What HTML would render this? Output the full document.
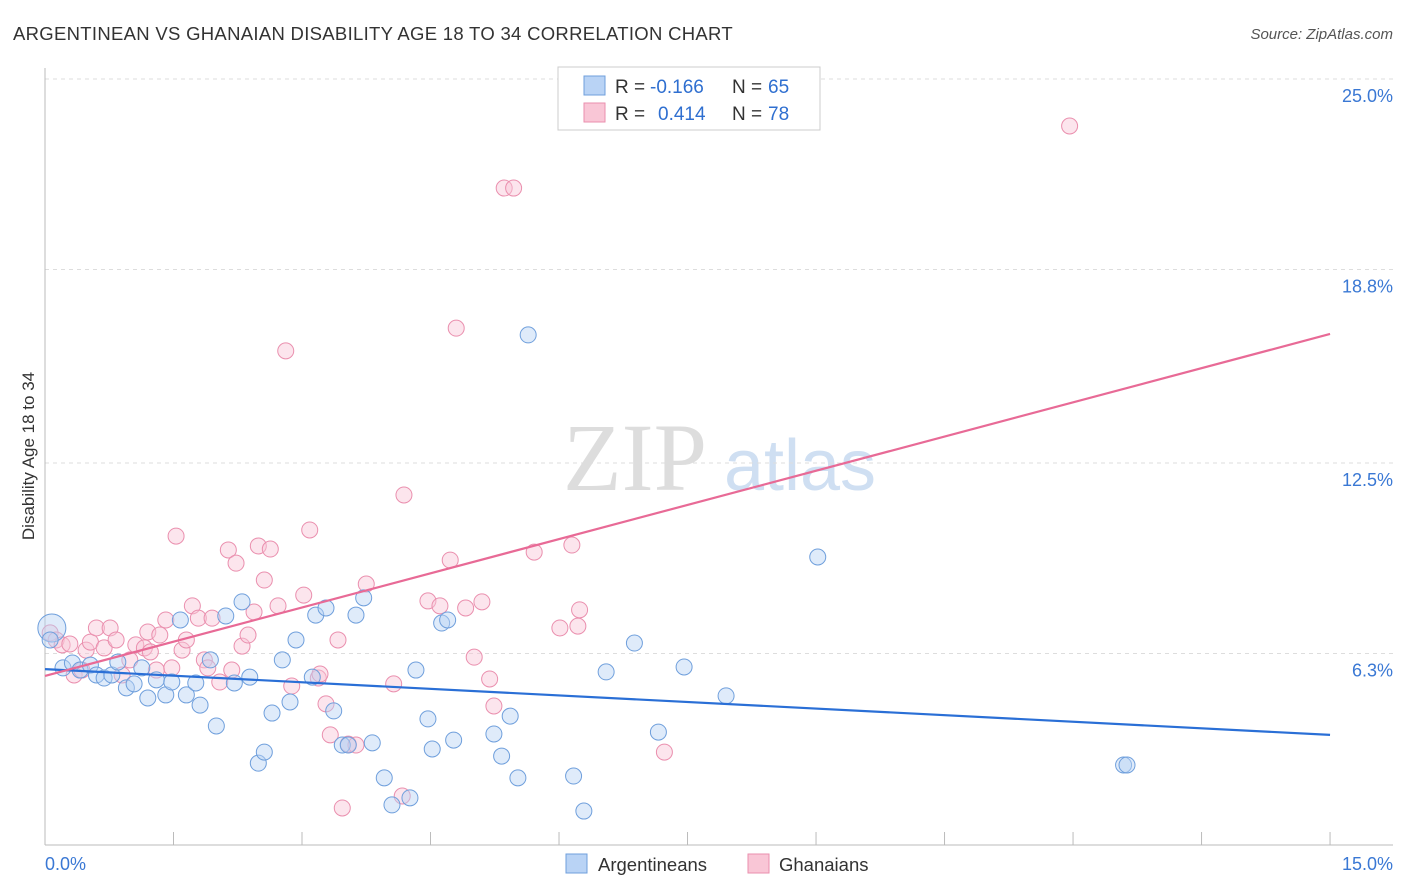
<!DOCTYPE html>
<html><head><meta charset="utf-8"><style>
body{margin:0;background:#fff;font-family:"Liberation Sans",sans-serif;}
#wrap{position:relative;width:1406px;height:892px;overflow:hidden;}
</style></head><body>
<div id="wrap">
<svg id="svg" width="1406" height="892" xmlns="http://www.w3.org/2000/svg">
<text x="13" y="40" font-size="18.5" letter-spacing="0.3" fill="#333">ARGENTINEAN VS GHANAIAN DISABILITY AGE 18 TO 34 CORRELATION CHART</text>
<text x="1393" y="39" font-size="15" fill="#555" font-style="italic" text-anchor="end">Source: ZipAtlas.com</text>
<text x="34" y="456" font-size="17" fill="#333" text-anchor="middle" transform="rotate(-90 34 456)">Disability Age 18 to 34</text>
<g><text x="635" y="490" font-size="96" font-family="Liberation Serif,serif" fill="#ddd" text-anchor="middle">ZIP</text><text x="800" y="490" font-size="72" fill="#cfdff2" text-anchor="middle">atlas</text></g>
<g id="grid"></g><g id="axes"></g><g id="marks"></g>
<g>
<rect x="558" y="67" width="262" height="63" fill="#fff" stroke="#ccc"/>
<rect x="584" y="76" width="21" height="19" fill="#b9d3f5" stroke="#6f9fdc"/>
<rect x="584" y="103" width="21" height="19" fill="#f9c6d6" stroke="#ea8fae"/>
<text x="615" y="93" font-size="19" fill="#333">R =</text>
<text x="650" y="93" font-size="19" fill="#2f6fd0">-0.166</text>
<text x="732" y="93" font-size="19" fill="#333">N =</text>
<text x="768" y="93" font-size="19" fill="#2f6fd0">65</text>
<text x="615" y="120" font-size="19" fill="#333">R =</text>
<text x="658" y="120" font-size="19" fill="#2f6fd0">0.414</text>
<text x="732" y="120" font-size="19" fill="#333">N =</text>
<text x="768" y="120" font-size="19" fill="#2f6fd0">78</text>
</g>
<g>
<rect x="566" y="854" width="21" height="19" fill="#b9d3f5" stroke="#6f9fdc"/><text x="598" y="871" font-size="18.5" fill="#333">Argentineans</text>
<rect x="748" y="854" width="21" height="19" fill="#f9c6d6" stroke="#ea8fae"/><text x="779" y="871" font-size="18.5" fill="#333">Ghanaians</text>
</g>
</svg>
<script>
const yTicks=[6.3,12.5,18.8,25.0];
const yTickLabels=["6.3%","12.5%","18.8%","25.0%"];
const xTickLabels=["0.0%","15.0%"];
const blueX=[.08,.06,.21,.32,.41,.53,.60,.69,.78,.85,.95,1.04,1.13,1.20,1.30,1.41,1.48,1.58,1.65,1.76,1.81,1.93,2.00,2.11,2.21,2.30,2.39,2.49,2.56,2.65,2.77,2.86,2.93,3.12,3.16,3.28,3.37,3.47,3.54,3.63,3.72,3.82,3.96,4.05,4.26,4.33,4.47,4.52,4.63,4.70,4.77,5.24,5.33,5.43,5.52,5.64,6.17,6.29,6.55,6.88,7.16,7.46,7.95,9.02,12.59,12.63];
const blueY=[7.13,6.74,5.83,5.99,5.76,5.92,5.60,5.50,5.60,6.02,5.18,5.31,5.83,4.85,5.44,4.95,5.37,7.39,4.95,5.34,4.62,6.09,3.94,7.52,5.34,7.98,5.53,2.73,3.09,4.36,6.09,4.72,6.74,5.53,7.55,7.78,4.43,3.32,3.32,7.55,8.11,3.39,2.25,1.37,1.60,5.76,4.17,3.19,7.29,7.39,3.48,3.68,2.96,4.26,2.25,16.67,2.31,1.17,5.70,6.64,3.74,5.86,4.92,9.44,2.67,2.67];
const pinkX=[.06,.13,.20,.29,.34,.43,.48,.53,.60,.69,.76,.83,.90,.99,1.06,1.16,1.20,1.23,1.30,1.34,1.41,1.48,1.53,1.60,1.65,1.72,1.79,1.86,1.90,1.95,2.04,2.14,2.18,2.23,2.30,2.37,2.44,2.49,2.56,2.63,2.72,2.81,2.88,3.02,3.09,3.19,3.21,3.28,3.33,3.42,3.47,3.54,3.63,3.75,4.07,4.17,4.19,4.47,4.61,4.73,4.80,4.91,5.01,5.10,5.19,5.24,5.36,5.47,5.71,6.01,6.15,6.22,6.24,7.23,11.96];
const pinkY=[6.97,6.74,6.58,6.61,5.60,5.76,6.41,6.67,7.13,6.48,7.13,6.74,5.60,6.09,6.58,6.48,7.00,6.35,5.76,6.90,7.39,5.83,10.12,6.41,6.74,7.85,7.45,6.09,5.83,7.45,5.37,9.67,5.76,9.24,6.54,6.90,7.65,9.80,8.69,9.70,7.85,16.15,5.24,8.20,10.32,5.50,5.63,4.66,3.65,6.74,1.27,3.35,3.32,8.56,5.31,1.66,11.46,8.01,7.85,9.34,16.89,7.78,6.18,7.98,5.47,4.59,21.45,21.45,9.60,7.13,9.83,7.19,7.72,3.09,23.47];
const blueTrend=[5.79,3.65];
const pinkTrend=[5.57,16.7];
const trendX=[0,15];
const NS="http://www.w3.org/2000/svg";
function sx(v){return 45+v*85.67;}
function sy(v){return 847-v*30.72;}
function mk(t,a,p){const e=document.createElementNS(NS,t);for(const k in a)e.setAttribute(k,a[k]);p.appendChild(e);return e;}
const grid=document.getElementById('grid'),axes=document.getElementById('axes'),marks=document.getElementById('marks');
yTicks.forEach((v,i)=>{
 const l=mk('line',{x1:45,x2:1393,y1:sy(v),y2:sy(v),stroke:'#ddd','stroke-dasharray':'4,4'},grid);
 
 
 const t=mk('text',{x:1393,y:sy(v)+23,'font-size':18,fill:'#3a78d4','text-anchor':'end'},axes);
 t.textContent=yTickLabels[i];
 
 
});
mk('line',{x1:45,x2:45,y1:68,y2:845,stroke:'#bbb'},axes);
mk('line',{x1:45,x2:1393,y1:845,y2:845,stroke:'#bbb'},axes);
for(let i=1;i<=10;i++){mk('line',{x1:sx(i*1.5),x2:sx(i*1.5),y1:832,y2:845,stroke:'#bbb'},axes);}
const xl0=mk('text',{x:45,y:870,'font-size':18,fill:'#3a78d4'},axes);xl0.textContent=xTickLabels[0];


const xl1=mk('text',{x:1393,y:870,'font-size':18,fill:'#3a78d4','text-anchor':'end'},axes);xl1.textContent=xTickLabels[1];


function pts(X,Y,fill,stroke,name){X.forEach((x,i)=>{
 const r=(name==='argentinean-point'&&i===0)?14:8;
 const c=mk('circle',{cx:sx(x),cy:sy(Y[i]),r:r,fill:fill,'fill-opacity':0.45,stroke:stroke,'stroke-width':1},marks);
 
 
});}
pts(pinkX,pinkY,'#f9c6d6','#ea8fae','ghanaian-point');
pts(blueX,blueY,'#b9d3f5','#6f9fdc','argentinean-point');
const bl=mk('line',{x1:sx(trendX[0]),y1:sy(blueTrend[0]),x2:sx(trendX[1]),y2:sy(blueTrend[1]),stroke:'#2a6fd6','stroke-width':2.2},marks);


const pl=mk('line',{x1:sx(trendX[0]),y1:sy(pinkTrend[0]),x2:sx(trendX[1]),y2:sy(pinkTrend[1]),stroke:'#e86a96','stroke-width':2.2},marks);


</script>
</div></body></html>
